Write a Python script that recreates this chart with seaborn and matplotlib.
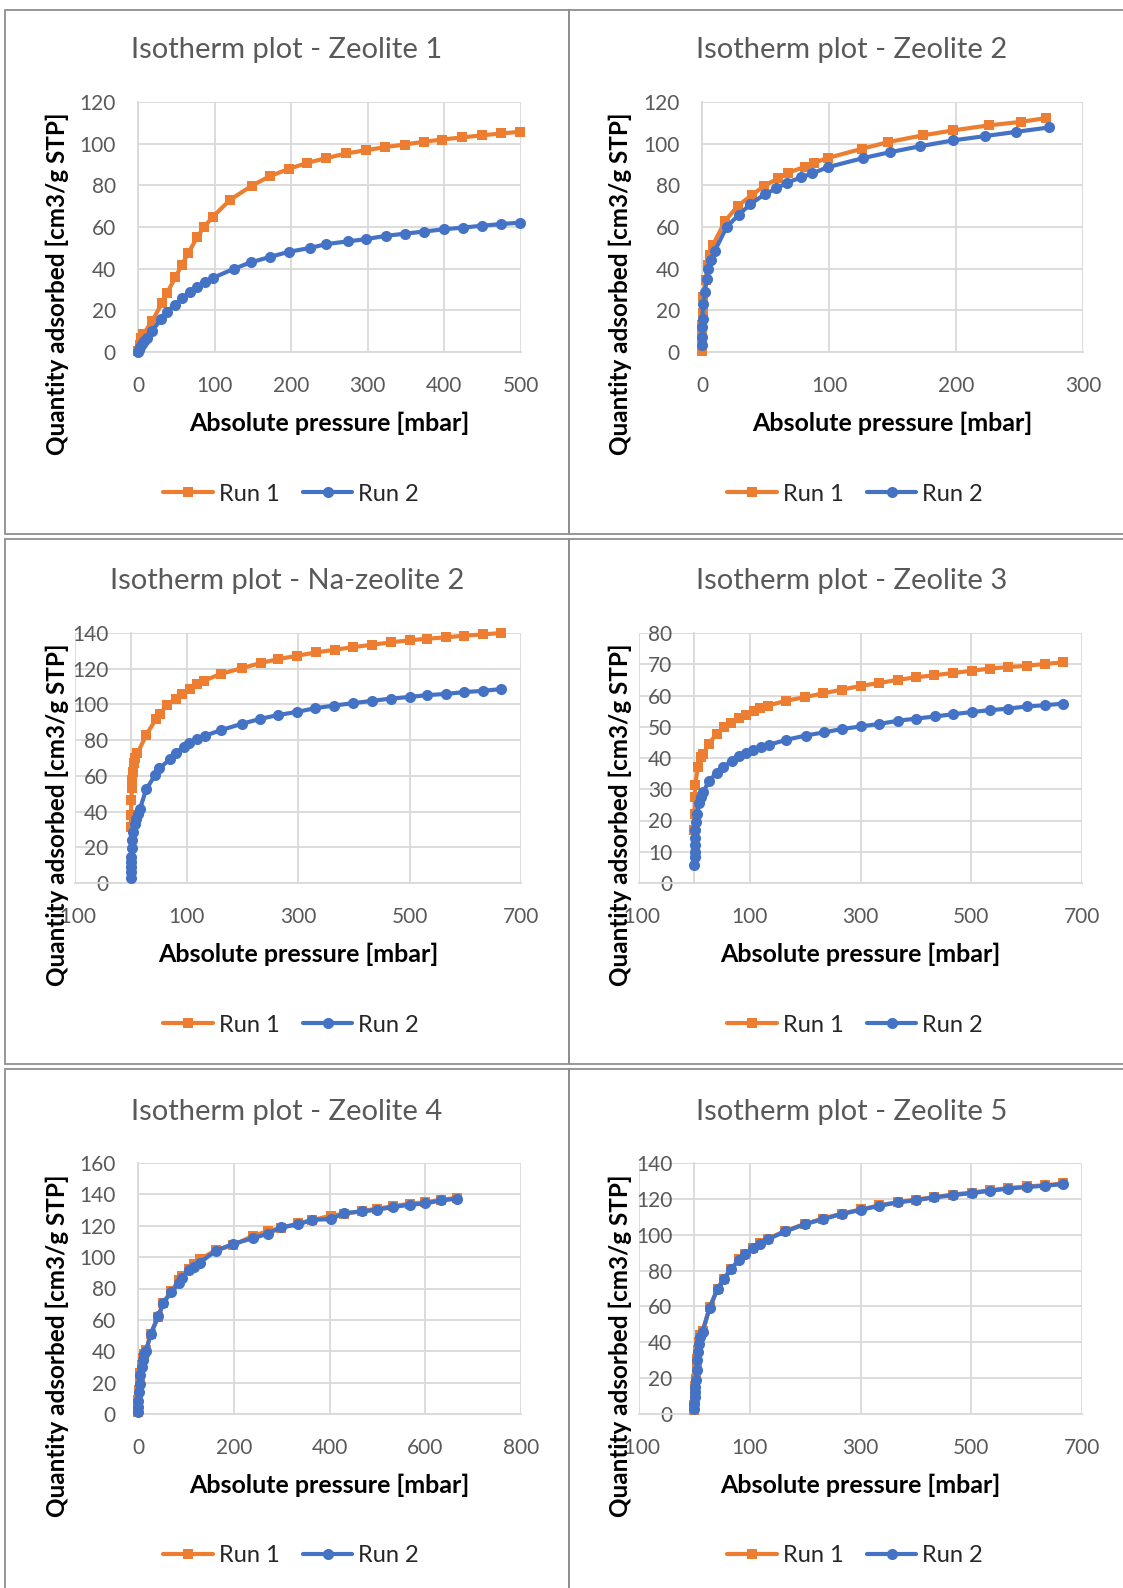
import matplotlib
matplotlib.use("Agg")
import matplotlib.pyplot as plt
import seaborn as sns
from matplotlib.lines import Line2D
from matplotlib.patches import Rectangle

# ---- data ----
z1_run1_x = [0, 2, 4, 7, 18.6, 31.7, 37.7, 48.9, 57.3, 65.7, 77.4, 86.2, 97.4, 120.7, 149, 172, 197, 221, 246,
             272, 298, 322, 348, 373, 397, 423, 449, 474, 499]
z1_run1_y = [0.6, 3.5, 6.5, 8.5, 15, 23.7, 28.2, 35.9, 41.9, 47.5, 55.2, 60, 64.8, 73.2, 79.9, 84.4, 87.9, 90.8,
             93.1, 95.3, 96.9, 98.3, 99.6, 100.9, 102, 103, 104, 104.9, 105.7]
z1_run2_x = [0, 1, 3, 5, 8.4, 11.6, 18.6, 30.3, 37.7, 48, 57.3, 67.6, 76.9, 87.6, 97.9, 125, 147, 172, 197, 224,
             246, 274, 298, 324, 349, 373, 399, 424, 449, 474, 499]
z1_run2_y = [0, 1, 2.5, 4, 5.5, 6.6, 10.3, 15.7, 19.4, 22.6, 25.8, 28.9, 31.4, 33.5, 35.6, 39.9, 43, 45.6, 48.1,
             49.9, 51.8, 53.1, 54.2, 55.8, 56.8, 57.8, 58.9, 59.7, 60.6, 61.4, 62.1]

z2_run1_x = [0, 0.1, 0.2, 0.3, 0.5, 0.8, 2.8, 4.5, 6.5, 8.5, 18.3, 28.5, 39.4, 48.7, 60, 67.6, 81, 88, 98.9,
             125.6, 146.8, 174, 198, 226, 251.5, 271]
z2_run1_y = [0.6, 5, 9, 13, 18.6, 26.6, 34.6, 41.9, 46.7, 51.2, 63, 70.3, 75.4, 79.6, 83.4, 86, 88.9, 90.8, 93.1,
             97.5, 100.8, 104, 106.4, 108.8, 110.5, 112.3]
z2_run2_x = [0, 0.1, 0.2, 0.4, 0.8, 2.3, 3.7, 5, 7, 9.9, 19.4, 29, 38, 49.3, 58.6, 66.8, 78.3, 86.8, 98.9, 127,
             148, 172, 198, 222.5, 247.6, 273.5]
z2_run2_y = [3.4, 7.4, 12, 16, 23, 28.9, 35, 39.8, 44.3, 48.3, 60, 65.9, 70.9, 75.7, 78.5, 81.2, 83.9, 85.7, 88.7,
             93.1, 95.9, 98.8, 101.6, 103.6, 105.7, 107.8]

na2_run1_x = [0.2, 0.5, 1, 2, 3, 4, 5.8, 8, 12, 28, 45.4, 52, 65, 81, 92, 106, 119, 132, 162.6, 199, 233, 265,
              299, 332, 365.8, 399, 433, 467, 500, 532, 566, 598, 631, 665]
na2_run1_y = [31.4, 38, 46.4, 53, 57.6, 62, 67, 70, 72.6, 83, 91.9, 94.5, 99.8, 103.3, 106.1, 108.9, 111.5, 113.4,
              117.2, 120.3, 123.2, 125.4, 127.3, 129.1, 130.6, 132.1, 133.4, 134.8, 135.9, 136.8, 137.6, 138.5,
              139.2, 140]
na2_run2_x = [0.5, 0.6, 0.7, 0.8, 1, 1.5, 2.5, 4.5, 7, 9.6, 12.8, 16.6, 27.5, 44, 51, 70, 81, 94.7, 105, 119,
              132.5, 162.6, 199, 232, 265, 298, 331, 365, 399, 433, 467, 500, 532, 566, 598, 631, 665]
na2_run2_y = [3, 6.2, 9, 11.8, 14.6, 19.8, 24, 28.6, 33, 36.1, 38.9, 41.5, 52.4, 60.5, 64.2, 69.2, 72.6, 76.4,
              78.2, 80.5, 82.4, 85.7, 89.1, 91.9, 94.1, 95.8, 97.9, 99.4, 100.7, 102, 103.3, 104.2, 105.2, 105.9,
              106.9, 107.6, 108.6]

z3_run1_x = [0.1, 0.3, 0.6, 1.3, 6.4, 11.6, 16, 25.8, 40, 53.5, 66.3, 80.5, 93.4, 107.6, 119, 133, 165.5, 200,
             233, 267, 301, 333.7, 367, 400, 433.5, 467, 500.5, 533, 567, 600, 633, 666.5]
z3_run1_y = [16.9, 22.2, 27.6, 31.4, 37.2, 40.4, 41.3, 44.5, 47.7, 49.8, 51.3, 52.7, 53.8, 55, 55.9, 56.8, 58.3,
             59.5, 60.7, 61.9, 63.1, 64, 65, 65.8, 66.5, 67.2, 67.9, 68.6, 69.1, 69.5, 70.1, 70.6]
z3_run2_x = [0.2, 0.3, 0.4, 0.5, 0.8, 2, 3.2, 5, 8.4, 11.6, 16, 25.8, 40.6, 52, 67.6, 80.5, 93.4, 106, 120.5, 134,
             166, 201, 234, 267, 301, 333.7, 367, 400, 434.8, 467, 500.5, 533, 567, 600, 633, 666.5]
z3_run2_y = [5.9, 8.3, 10, 12.1, 14.5, 16.9, 19.6, 22.2, 25.5, 27.6, 29, 32.6, 35.3, 37.2, 39.1, 40.6, 41.7, 42.6,
             43.4, 44.2, 45.8, 47.2, 48.2, 49.3, 50.1, 50.9, 51.9, 52.6, 53.3, 54, 54.7, 55.3, 55.8, 56.5, 56.9,
             57.4]

z4_x = [0.1, 0.3, 0.8, 2, 3.7, 5, 7.5, 9.7, 13.4, 17, 26.8, 42.5, 53, 69.4, 86.5, 91.7, 106.6, 117.8, 129, 162.6,
        198.4, 239.4, 270.7, 298.3, 334, 364, 403.4, 429.5, 468.3, 499.6, 531.7, 567.5, 600, 632, 666]
z4_run1_y = [1.5, 5, 9, 15, 20.5, 26, 31.5, 36, 38.5, 41, 51, 62, 71, 78.5, 85.5, 88, 92.5, 95.5, 98.5, 104.5,
             107.5, 113.5, 116.5, 118.5, 121.5, 123.5, 126.5, 127.5, 129.5, 130.8, 132.5, 134, 135, 136.5, 137.8]
z4_run2_y = [1.3, 4.5, 8.3, 14, 19.4, 24.7, 30, 34.7, 38.1, 40.3, 51.3, 62.6, 70.5, 78, 83.3, 86.5, 91.8, 94,
             96.5, 104, 108.4, 112, 114.8, 119, 120.8, 123.8, 124.2, 128, 129.1, 130.2, 131.9, 133.4, 134.2, 136.1,
             137.2]

z5_x = [0.1, 0.2, 0.3, 0.6, 1.2, 2.5, 4, 5, 6.4, 8.4, 11, 14.8, 27.7, 41.9, 52.8, 66.3, 80.5, 92, 106, 119, 133,
        164, 200, 232, 266, 301, 333, 367, 400, 433.5, 467, 500.5, 533, 567, 600, 633, 666.5]
z5_run1_y = [2.5, 5, 8.5, 12, 15.5, 19.5, 25, 30.5, 35.5, 40, 43.8, 46.3, 59.6, 70, 75.5, 81, 86.2, 89.5, 92.8,
             95.3, 97.8, 102.1, 106.1, 109, 111.8, 114.1, 116.3, 118.2, 119.6, 121, 122.4, 123.5, 124.8, 126,
             126.9, 127.6, 128.6]
z5_run2_y = [3, 5.8, 9.5, 12.3, 15.1, 18.8, 24.4, 30, 34.7, 39.3, 43.1, 45.9, 59.3, 69.7, 75.1, 80.7, 85.9, 89.1,
             92.5, 94.9, 97.5, 101.8, 105.9, 108.7, 111.5, 113.9, 116.1, 118, 119.3, 120.8, 122.1, 123.2, 124.5,
             125.7, 126.6, 127.3, 128.3]

titles = ["Isotherm plot - Zeolite 1", "Isotherm plot - Zeolite 2", "Isotherm plot - Na-zeolite 2",
          "Isotherm plot - Zeolite 3", "Isotherm plot - Zeolite 4", "Isotherm plot - Zeolite 5"]
series_names = ["Run 1", "Run 2"]

# ---- style ----
sns.set_style("white")
plt.rcParams['font.family'] = ['Lato', 'DejaVu Sans']
plt.rcParams['axes.unicode_minus'] = False

ORANGE = '#ED7D31'
BLUE = '#4472C4'
GRID = '#D9D9D9'
TXT = '#595959'
BORDER = '#8F8F8F'
LW = 3.0
MS_SQ = 7.5
MS_CI = 8

W, H = 1123, 1588
fig = plt.figure(figsize=(W / 100, H / 100), dpi=100)


def fx(x):
    return x / W


def fy(y):
    return 1 - y / H


charts = [
    dict(title=titles[0], r1=(z1_run1_x, z1_run1_y), r2=(z1_run2_x, z1_run2_y),
         xlim=(0, 500), xstep=100, ylim=(0, 120), ystep=20, box=(138, 102, 521, 352), col=0, row=0),
    dict(title=titles[1], r1=(z2_run1_x, z2_run1_y), r2=(z2_run2_x, z2_run2_y),
         xlim=(0, 300), xstep=100, ylim=(0, 120), ystep=20, box=(702, 102, 1083, 352), col=1, row=0),
    dict(title=titles[2], r1=(na2_run1_x, na2_run1_y), r2=(na2_run2_x, na2_run2_y),
         xlim=(-100, 700), xstep=200, ylim=(0, 140), ystep=20, box=(75, 633, 521, 883), col=0, row=1),
    dict(title=titles[3], r1=(z3_run1_x, z3_run1_y), r2=(z3_run2_x, z3_run2_y),
         xlim=(-100, 700), xstep=200, ylim=(0, 80), ystep=10, box=(639, 633, 1082, 883), col=1, row=1),
    dict(title=titles[4], r1=(z4_x, z4_run1_y), r2=(z4_x, z4_run2_y),
         xlim=(0, 800), xstep=200, ylim=(0, 160), ystep=20, box=(138, 1163, 521, 1414), col=0, row=2),
    dict(title=titles[5], r1=(z5_x, z5_run1_y), r2=(z5_x, z5_run2_y),
         xlim=(-100, 700), xstep=200, ylim=(0, 140), ystep=20, box=(639, 1163, 1082, 1414), col=1, row=2),
]

cell_cols = [(5, 569), (569, 1140)]
cell_rows = [(10, 534), (539, 1064), (1069, 1600)]
row_shift = [0, 531, 1062]

for c in charts:
    l, t, r, b = c['box']
    ax = fig.add_axes([fx(l), fy(b), (r - l) / W, (b - t) / H])
    sns.lineplot(x=c['r1'][0], y=c['r1'][1], ax=ax, color=ORANGE, marker='s', markersize=MS_SQ,
                 markeredgewidth=0, linewidth=LW, sort=False, estimator=None, legend=False,
                 zorder=3, clip_on=False)
    sns.lineplot(x=c['r2'][0], y=c['r2'][1], ax=ax, color=BLUE, marker='o', markersize=MS_CI,
                 markeredgewidth=0, linewidth=LW, sort=False, estimator=None, legend=False,
                 zorder=4, clip_on=False)
    ax.set_xlim(*c['xlim'])
    ax.set_ylim(*c['ylim'])
    ax.set_xticks(range(c['xlim'][0], c['xlim'][1] + 1, c['xstep']))
    ax.set_yticks(range(c['ylim'][0], c['ylim'][1] + 1, c['ystep']))
    ax.grid(True, color=GRID, linewidth=1.3)
    ax.set_axisbelow(True)
    for s in ['top', 'right']:
        ax.spines[s].set_visible(False)
    ax.spines['left'].set_position(('data', 0))
    for s in ['left', 'bottom']:
        ax.spines[s].set_color(GRID)
        ax.spines[s].set_linewidth(1.3)
        ax.spines[s].set_zorder(1)
    ax.tick_params(axis='both', length=0, labelsize=15, colors=TXT)
    ax.tick_params(axis='y', pad=16)
    ax.tick_params(axis='x', pad=17)
    ax.set_xlabel('')
    ax.set_ylabel('')

    cl, cr = cell_cols[c['col']]
    ct, cb = cell_rows[c['row']]
    fig.add_artist(Rectangle((fx(cl), fy(cb)), (cr - cl) / W, (cb - ct) / H, transform=fig.transFigure,
                             fill=False, edgecolor=BORDER, linewidth=1.3))
    dy = row_shift[c['row']]
    cx = 287 if c['col'] == 0 else 852
    fig.text(fx(cx), fy(50 + dy), c['title'], ha='center', va='center', fontsize=21, color=TXT)
    fig.text(fx((l + r) / 2), fy(423 + dy), "Absolute pressure [mbar]", ha='center', va='center',
             fontsize=18, fontweight='bold', color='black')
    ylx = 57 if c['col'] == 0 else 620
    fig.text(fx(ylx), fy(284 + dy), "Quantity adsorbed [cm3/g STP]", ha='center', va='center',
             rotation=90, fontsize=17.5, fontweight='bold', color='black')
    handles = [Line2D([], [], color=ORANGE, marker='s', lw=LW, ms=MS_SQ, mew=0),
               Line2D([], [], color=BLUE, marker='o', lw=LW, ms=MS_CI, mew=0)]
    lgx = 291 if c['col'] == 0 else 855
    fig.legend(handles=handles, labels=series_names, loc='center', bbox_to_anchor=(fx(lgx), fy(494 + dy)),
               ncol=2, frameon=False, fontsize=17, handlelength=2.1, handletextpad=0.25, columnspacing=1.0)

fig.savefig("out.png", dpi=100)
